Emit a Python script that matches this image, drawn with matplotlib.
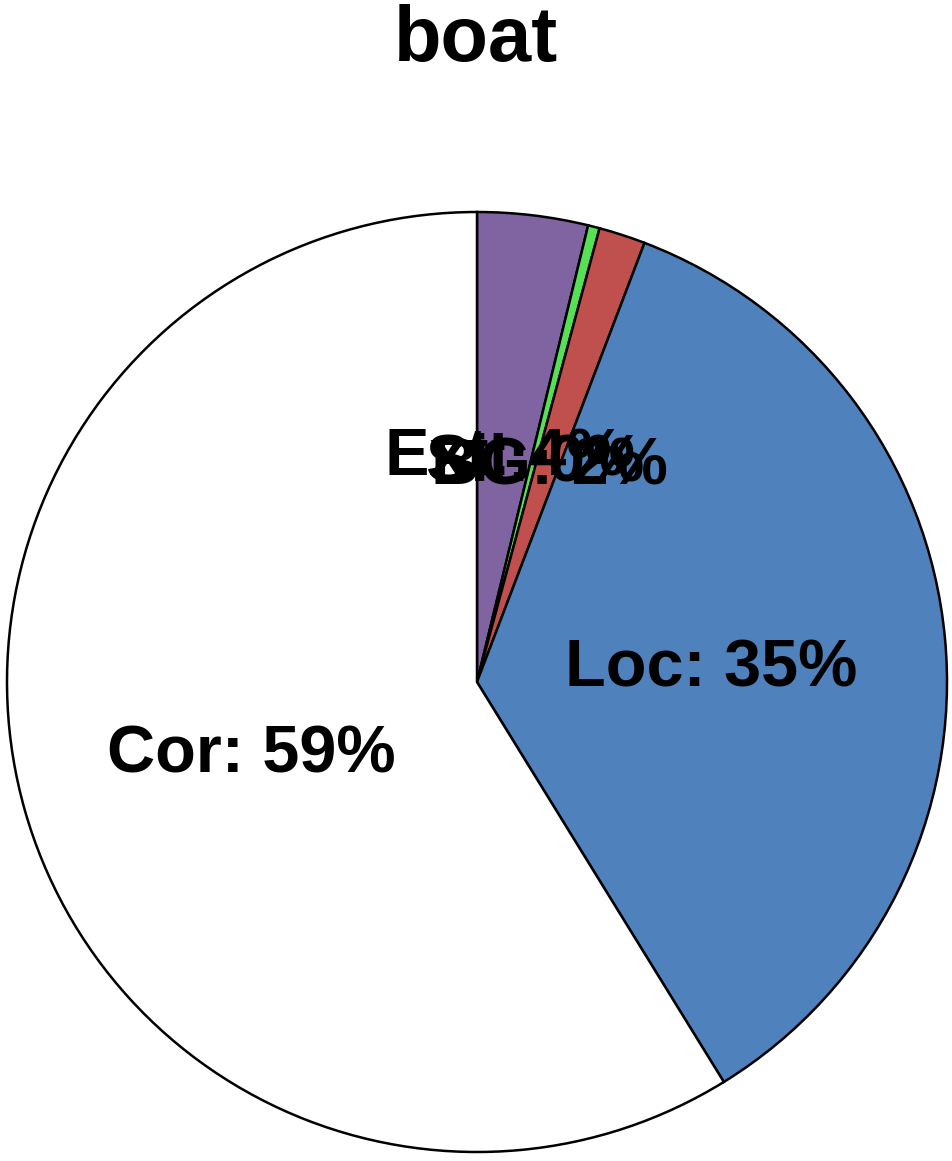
import numpy as np
import matplotlib.pyplot as plt

plt.rcParams['font.family'] = ['Liberation Sans', 'DejaVu Sans']

# slice data (clockwise from 12 o'clock)
names = ['Ext', 'Sil', 'BG', 'Loc', 'Cor']
values = [3.8, 0.4, 1.6, 35.4, 58.8]
colors = ['#8064a2', '#55e055', '#c0504d', '#4f81bd', '#ffffff']

fig = plt.figure(figsize=(9.52, 11.61), dpi=100)
cx, cy, r = 477, 682, 470
ax = fig.add_axes([(cx - r) / 952, (1161 - cy - r) / 1161, 2 * r / 952, 2 * r / 1161])

wedges, _ = ax.pie(values, colors=colors, startangle=90, counterclock=False,
                   wedgeprops=dict(edgecolor='black', linewidth=1.8))
ax.set_xlim(-1, 1)
ax.set_ylim(-1, 1)
ax.set_aspect('equal')
ax.axis('off')

total = sum(values)
for w, name, v in zip(wedges, names, values):
    ang = np.deg2rad((w.theta1 + w.theta2) / 2)
    ax.text(0.5 * np.cos(ang), 0.5 * np.sin(ang) - 0.02, f'{name}: {v / total * 100:.0f}%',
            ha='center', va='center', fontsize=48, fontweight='bold')

fig.text(0.5, 1 - 40 / 1161, 'boat', ha='center', va='center',
         fontsize=56, fontweight='bold')

plt.savefig('out.png', dpi=100)
